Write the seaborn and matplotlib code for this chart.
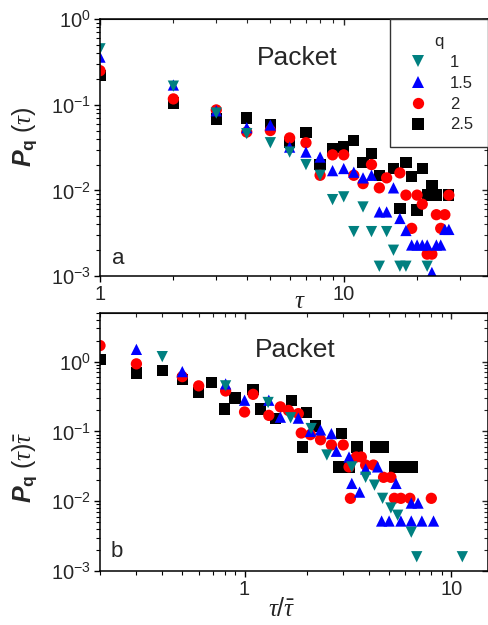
import numpy as np
import pandas as pd
import seaborn as sns
import matplotlib.pyplot as plt
from matplotlib.ticker import LogLocator, FuncFormatter, NullFormatter

sns.set_style('ticks')
plt.rcParams['font.family'] = ['Liberation Sans', 'DejaVu Sans']
plt.rcParams['mathtext.fontset'] = 'custom'
plt.rcParams['mathtext.rm'] = 'Liberation Sans'
plt.rcParams['mathtext.it'] = 'Liberation Serif:italic'
plt.rcParams['mathtext.bf'] = 'Liberation Sans:bold'
plt.rcParams['mathtext.bfit'] = 'Liberation Sans:bold:italic'

q_labels = ['1', '1.5', '2', '2.5']
colors = {'1': '#008080', '1.5': '#0000ff', '2': '#ff0000', '2.5': '#000000'}
markers = {'1': 'v', '1.5': '^', '2': 'o', '2.5': 's'}

# panel a: P_q(tau) vs tau
tau_a_q1 = [1, 2, 3, 4, 5, 6, 7, 8, 9, 10, 11, 12, 13, 14, 15, 16, 17, 18, 22]
p_a_q1 = [0.45, 0.165, 0.08, 0.046, 0.036, 0.028, 0.020, 0.015, 0.0078, 0.0084,
          0.0033, 0.0064, 0.0033, 0.0013, 0.0033, 0.0020, 0.0013, 0.0013, 0.0013]

tau_a_q15 = [1, 2, 3, 4, 5, 6, 7, 8, 9, 10, 11, 12, 13, 14, 15, 16, 17, 18, 19,
             20, 21, 22, 23, 24, 25, 26, 27]
p_a_q15 = [0.36, 0.17, 0.085, 0.054, 0.058, 0.032, 0.028, 0.0245, 0.017, 0.018,
           0.0163, 0.014, 0.015, 0.0056, 0.0056, 0.0107, 0.0047, 0.0034, 0.0023,
           0.0023, 0.0023, 0.0023, 0.0011, 0.0023, 0.0023, 0.0035, 0.0035]

tau_a_q2 = [1, 2, 3, 4, 5, 6, 7, 8, 9, 10, 11, 12, 13, 14, 15, 17, 18, 19, 20,
            21, 22, 23, 24, 25, 26, 27]
p_a_q2 = [0.25, 0.117, 0.087, 0.048, 0.05, 0.041, 0.036, 0.015, 0.026, 0.026,
          0.015, 0.012, 0.02, 0.0107, 0.014, 0.016, 0.0088, 0.0036, 0.0088,
          0.0069, 0.0018, 0.0018, 0.0052, 0.0036, 0.0052, 0.0088]

tau_a_q25 = [1, 2, 3, 4, 5, 6, 7, 8, 9, 10, 11, 12, 13, 14, 16, 17, 18, 19, 20,
             21, 22, 23, 24, 27]
p_a_q25 = [0.22, 0.105, 0.068, 0.07, 0.058, 0.036, 0.047, 0.020, 0.031, 0.032,
           0.038, 0.021, 0.027, 0.015, 0.018, 0.0062, 0.021, 0.0146, 0.0059,
           0.018, 0.0088, 0.0115, 0.0088, 0.0088]

# panel b: P_q(tau)*tau_bar vs tau/tau_bar
x_b_q1 = [0.40, 0.81, 1.3, 1.67, 2.1, 2.5, 3.3, 3.85, 4.25, 4.65, 5.1, 5.5,
          6.4, 6.8, 11.3]
y_b_q1 = [1.18, 0.45, 0.26, 0.157, 0.11, 0.046, 0.031, 0.022, 0.017, 0.011,
          0.008, 0.0063, 0.0036, 0.0016, 0.0016]

x_b_q15 = [0.30, 0.50, 0.81, 1.0, 1.31, 1.49, 1.82, 2.08, 2.33, 2.63, 2.78,
           3.2, 3.3, 3.6, 3.85, 4.4, 5.4, 4.6, 5.0, 5.7, 6.4, 6.9, 6.4, 7.2,
           8.2]
y_b_q15 = [1.5, 0.72, 0.48, 0.28, 0.28, 0.16, 0.155, 0.10, 0.105, 0.093,
           0.052, 0.043, 0.018, 0.0135, 0.029, 0.031, 0.018, 0.0052, 0.0052,
           0.0052, 0.0094, 0.0094, 0.0052, 0.0052, 0.0052]

x_b_q2 = [0.20, 0.30, 0.50, 0.60, 0.81, 1.0, 1.1, 1.31, 1.49, 1.63, 1.82,
          1.88, 2.08, 2.33, 2.63, 3.0, 3.2, 3.47, 3.67, 3.85, 4.2, 4.7, 5.1,
          3.25, 5.3, 5.7, 6.3, 8.0]
y_b_q2 = [1.7, 0.93, 0.61, 0.45, 0.38, 0.19, 0.34, 0.17, 0.225, 0.2, 0.18,
          0.095, 0.09, 0.076, 0.064, 0.064, 0.031, 0.043, 0.043, 0.033, 0.033,
          0.022, 0.022, 0.011, 0.011, 0.011, 0.011, 0.011]

x_b_q25 = [0.20, 0.30, 0.40, 0.50, 0.60, 0.69, 0.80, 0.90, 1.1, 1.19, 1.41,
           1.69, 2.0, 1.9, 2.2, 2.94, 2.85, 3.2, 3.5, 4.3, 4.7, 5.3, 5.8, 6.5]
y_b_q25 = [1.07, 0.69, 0.74, 0.55, 0.36, 0.5, 0.21, 0.30, 0.40, 0.21, 0.155,
           0.275, 0.185, 0.06, 0.12, 0.093, 0.031, 0.031, 0.06, 0.06, 0.06,
           0.031, 0.031, 0.031]


def make_frame(parts):
    # black first so teal ends up on top, like the original
    frames = [pd.DataFrame({'x': xs, 'y': ys, 'q': q}) for q, xs, ys in parts]
    return pd.concat(frames, ignore_index=True)


df_a = make_frame([('2.5', tau_a_q25, p_a_q25), ('2', tau_a_q2, p_a_q2),
                   ('1.5', tau_a_q15, p_a_q15), ('1', tau_a_q1, p_a_q1)])
df_b = make_frame([('2.5', x_b_q25, y_b_q25), ('2', x_b_q2, y_b_q2),
                   ('1.5', x_b_q15, y_b_q15), ('1', x_b_q1, y_b_q1)])

fig = plt.figure(figsize=(4.89, 6.25), dpi=100)
ax_a = fig.add_axes([0.2045, 0.5584, 0.793, 0.411])
ax_b = fig.add_axes([0.2045, 0.0864, 0.793, 0.413])

for ax, df, show_leg in [(ax_a, df_a, True), (ax_b, df_b, False)]:
    ax.set_xscale('log')
    ax.set_yscale('log')
    sns.scatterplot(data=df, x='x', y='y', hue='q', style='q',
                    hue_order=q_labels, style_order=q_labels,
                    palette=colors, markers=markers, s=66, linewidth=0,
                    legend=show_leg, ax=ax)

ax_a.set_xlim(1, 39)
ax_a.set_ylim(1e-3, 1)
ax_b.set_xlim(0.2, 15)
ax_b.set_ylim(1e-3, 5)

minor_subs = np.arange(2, 10)
for ax in (ax_a, ax_b):
    ax.xaxis.set_major_formatter(FuncFormatter(lambda v, p: f'{v:g}'))
    ax.xaxis.set_minor_formatter(NullFormatter())
    ax.yaxis.set_minor_locator(LogLocator(base=10, subs=minor_subs, numticks=20))
    ax.yaxis.set_minor_formatter(NullFormatter())
    ax.tick_params(which='major', direction='out', length=4.5, width=1,
                   labelsize=14.5, pad=2, color='black')
    ax.tick_params(which='minor', direction='out', length=2.8, width=0.8,
                   color='black')
    for sp in ax.spines.values():
        sp.set_linewidth(1.1)
        sp.set_color('black')
    # mirrored ticks on top and right point inwards
    sx = ax.secondary_xaxis('top')
    sx.tick_params(which='major', direction='in', length=4.5, width=1)
    sx.tick_params(which='minor', direction='in', length=2.8, width=0.8)
    sx.xaxis.set_major_formatter(NullFormatter())
    sx.xaxis.set_minor_formatter(NullFormatter())
    sy = ax.secondary_yaxis('right')
    sy.yaxis.set_minor_locator(LogLocator(base=10, subs=minor_subs, numticks=20))
    sy.tick_params(which='major', direction='in', length=4.5, width=1)
    sy.tick_params(which='minor', direction='in', length=2.8, width=0.8)
    sy.yaxis.set_major_formatter(NullFormatter())
    sy.yaxis.set_minor_formatter(NullFormatter())

ax_a.set_xlabel(r'$\tau$', fontsize=18)
ax_a.xaxis.set_label_coords(0.515, -0.05)
ax_a.set_ylabel(r'$\mathbfit{P}_{\mathbf{q}}\ (\tau)$', fontsize=18)
ax_a.yaxis.set_label_coords(-0.155, 0.54)

ax_b.set_xlabel(r'$\tau/\bar{\tau}$', fontsize=18)
ax_b.xaxis.set_label_coords(0.47, -0.10)
ax_b.set_ylabel(r'$\mathbfit{P}_{\mathbf{q}}\ (\tau)\bar{\tau}$', fontsize=18)
ax_b.yaxis.set_label_coords(-0.155, 0.40)

ax_a.text(0.508, 0.848, 'Packet', transform=ax_a.transAxes, fontsize=19,
          ha='center', va='center')
ax_b.text(0.503, 0.858, 'Packet', transform=ax_b.transAxes, fontsize=19,
          ha='center', va='center')
ax_a.text(0.046, 0.07, 'a', transform=ax_a.transAxes, fontsize=16,
          ha='center', va='center')
ax_b.text(0.044, 0.074, 'b', transform=ax_b.transAxes, fontsize=16,
          ha='center', va='center')

sns.move_legend(ax_a, 'upper right', bbox_to_anchor=(1, 1), borderaxespad=0,
                title='q', frameon=True, fancybox=False, fontsize=12,
                title_fontsize=12, edgecolor='#333333', framealpha=1,
                labelspacing=0.35, handletextpad=1.1, borderpad=0.9,
                handlelength=1.6, alignment='center')
ax_a.get_legend().get_frame().set_linewidth(1.0)

fig.savefig('out.png', dpi=100)
